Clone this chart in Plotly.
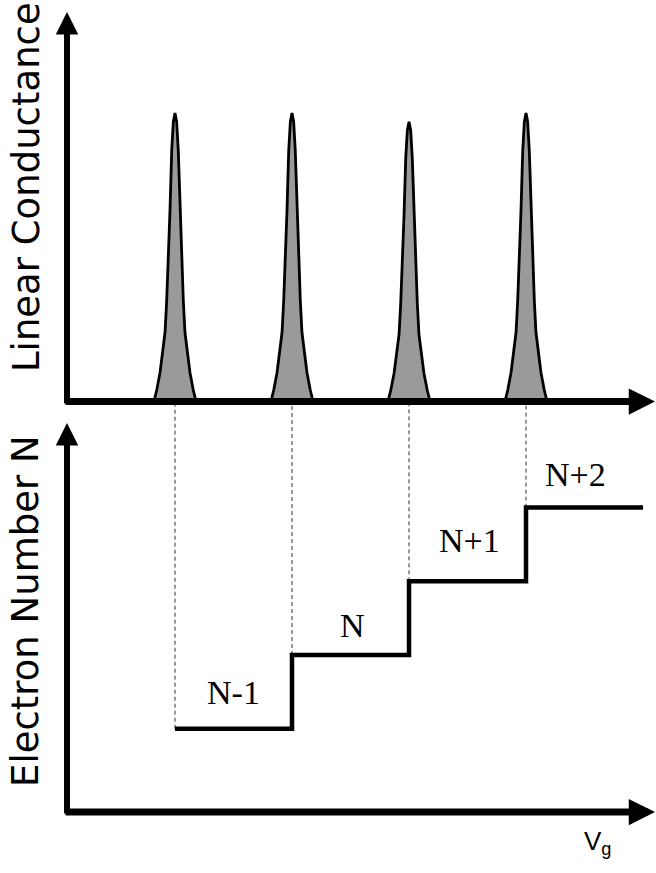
import plotly.graph_objects as go

# ---------------- data ----------------
peak_vg = [1.0, 2.0, 3.0, 4.0]            # gate voltage at each conductance peak
peak_height = [1.0, 1.0, 0.97, 1.0]        # relative peak conductance
# one-sided peak profile: offset from the peak centre (Vg units) and relative height
profile_offset = [0.0, 0.014, 0.028, 0.043, 0.057, 0.071, 0.085, 0.105, 0.128, 0.156, 0.18]
profile_level = [1.0, 0.97, 0.87, 0.66, 0.49, 0.35, 0.24, 0.17, 0.10, 0.04, 0.0]

step_vg = [1.0, 2.0, 3.0, 4.0, 5.0]        # Vg where the electron number changes (last = end)
electron_level = [-1, 0, 1, 2]             # electron number relative to N
level_labels = ["N-1", "N", "N+1", "N+2"]

y_label_top = "Linear Conductance"
y_label_bottom = "Electron Number N"
x_label = "V<sub>g</sub>"

# ---------------- layout helpers ----------------
W, H = 656, 873
def px(x):
    return x / W
def py(y):
    return 1 - y / H

x_range = [0.0684, 5.111]
top_range = [0, 1.3917]
bot_range = [-2.13, 3.433]

fig = go.Figure()

# conductance peaks
for c, h in zip(peak_vg, peak_height):
    xs = [c - o for o in reversed(profile_offset)] + [c + o for o in profile_offset[1:]]
    ys = [h * l for l in reversed(profile_level)] + [h * l for l in profile_level[1:]]
    fig.add_trace(go.Scatter(x=xs, y=ys, mode="lines", fill="toself",
                             fillcolor="#9a9a9a", line=dict(color="black", width=2.8),
                             xaxis="x", yaxis="y", hoverinfo="skip", showlegend=False))

# dashed guide lines from each peak down to the step
dx, dy = [], []
for c, lev in zip(peak_vg, electron_level):
    dx += [c, c, None]
    dy += [lev, bot_range[1], None]
fig.add_trace(go.Scatter(x=dx, y=dy, mode="lines",
                         line=dict(color="#333333", width=1, dash="4px,3px"),
                         xaxis="x2", yaxis="y2", hoverinfo="skip", showlegend=False))

# electron number staircase
fig.add_trace(go.Scatter(x=step_vg, y=electron_level + [electron_level[-1]], mode="lines",
                         line=dict(color="black", width=4.5, shape="hv"),
                         xaxis="x2", yaxis="y2", hoverinfo="skip", showlegend=False))

annotations = []
# axis arrows
def arrow(tip_x, tip_y, ax, ay, w):
    return dict(x=px(tip_x), y=py(tip_y), xref="paper", yref="paper", text="",
                showarrow=True, ax=ax, ay=ay, axref="pixel", ayref="pixel",
                arrowhead=2, arrowwidth=w, arrowsize=0.75, arrowcolor="black", standoff=0)

annotations.append(arrow(67, 12, 0, 393, 6))
annotations.append(arrow(667, 401.5, -603, 0, 7))
annotations.append(arrow(67, 423, 0, 392, 6))
annotations.append(arrow(667, 812, -603, 0, 7))

# level labels
lift = [36, 30, 41, 33]
shift = [0, 2, 2, -9]
for i, (lab, lev) in enumerate(zip(level_labels, electron_level)):
    annotations.append(dict(x=(step_vg[i] + step_vg[i + 1]) / 2, y=lev, xref="x2", yref="y2",
                            text=lab, showarrow=False, yshift=lift[i], xshift=shift[i],
                            xanchor="center", yanchor="middle",
                            font=dict(family="Liberation Serif", size=34, color="black")))

# axis titles
annotations.append(dict(x=px(26), y=py(187), xref="paper", yref="paper", text=y_label_top,
                        textangle=-90, showarrow=False, xanchor="center", yanchor="middle",
                        font=dict(family="DejaVu Sans", size=37, color="black")))
annotations.append(dict(x=px(25), y=py(611), xref="paper", yref="paper", text=y_label_bottom,
                        textangle=-90, showarrow=False, xanchor="center", yanchor="middle",
                        font=dict(family="DejaVu Sans", size=37, color="black")))
annotations.append(dict(x=px(597), y=py(842), xref="paper", yref="paper", text=x_label,
                        showarrow=False, xanchor="center", yanchor="middle",
                        font=dict(family="Liberation Sans", size=26, color="black")))

axis_common = dict(visible=False, fixedrange=True)
fig.update_layout(
    width=W, height=H,
    margin=dict(l=0, r=0, t=0, b=0),
    paper_bgcolor="white", plot_bgcolor="rgba(0,0,0,0)",
    showlegend=False,
    xaxis=dict(domain=[px(66), 1], range=x_range, anchor="y", **axis_common),
    yaxis=dict(domain=[py(401.5), 1], range=top_range, anchor="x", **axis_common),
    xaxis2=dict(domain=[px(66), 1], range=x_range, anchor="y2", **axis_common),
    yaxis2=dict(domain=[py(812), py(402)], range=bot_range, anchor="x2", **axis_common),
    annotations=annotations,
)

fig.write_html("out.html", config={"displayModeBar": False},
               post_script="document.body.style.margin='0';document.body.style.overflow='hidden';")
